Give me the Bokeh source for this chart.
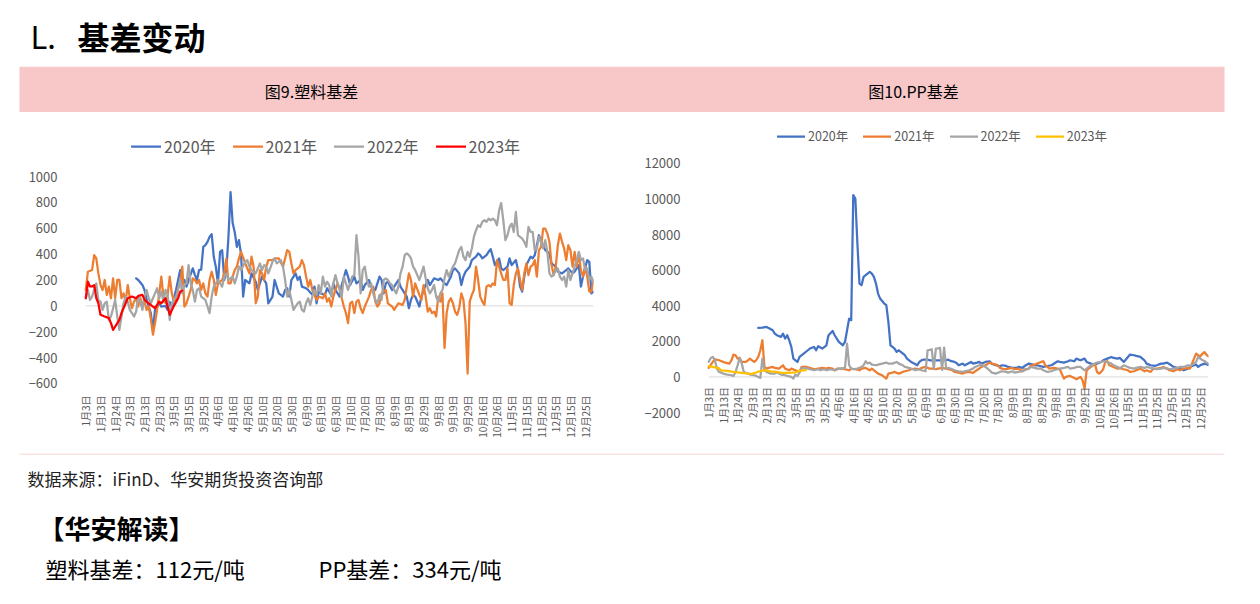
from math import pi
from bokeh.plotting import figure
from bokeh.models import Range1d, FixedTicker
from bokeh.layouts import column, row
from bokeh.embed import file_html
from bokeh.resources import INLINE
from bokeh.core.properties import value

FONT = "Noto Sans CJK SC"
GRAY_TXT = "#595959"

# ---------------- data ----------------
N_CAT = 243  # trading-day categories on the x axis
LABELS = ["1月3日", "1月13日", "1月24日", "2月3日", "2月13日", "2月23日", "3月5日",
          "3月15日", "3月25日", "4月6日", "4月16日", "4月26日", "5月10日", "5月20日",
          "5月30日", "6月9日", "6月19日", "6月30日", "7月10日", "7月20日", "7月30日",
          "8月9日", "8月19日", "8月29日", "9月8日", "9月19日", "9月29日", "10月16日",
          "10月26日", "11月5日", "11月15日", "11月25日", "12月5日", "12月15日", "12月25日"]
LABEL_STEP = 7
LABEL_POS = [i * LABEL_STEP for i in range(len(LABELS))]

SERIES = ["2020年", "2021年", "2022年", "2023年"]
PE_COLORS = ["#4472C4", "#ED7D31", "#A5A5A5", "#FF0000"]
PP_COLORS = ["#4472C4", "#ED7D31", "#A5A5A5", "#FFC000"]

PE_TICKS = [-600, -400, -200, 0, 200, 400, 600, 800, 1000]
PP_TICKS = [-2000, 0, 2000, 4000, 6000, 8000, 10000, 12000]

# (category index, basis) pairs
PE_2020 = [(24,213),(25,200),(27,161),(28,123),(29,46),(30,-5),(31,-56),(32,-190),(33,-31),(35,20),(36,-5),(38,0),(39,-31),(40,30),(41,-5),(43,123),(44,200),(45,277),(46,180),(47,200),(48,149),(49,200),(51,290),(52,240),(53,200),(54,277),(55,280),(56,456),(57,469),(58,495),(59,533),(60,555),(61,379),(62,300),(63,174),(64,418),(65,431),(66,200),(67,280),(68,533),(69,879),(70,640),(71,570),(72,456),(73,508),(74,400),(75,72),(76,200),(78,174),(79,251),(81,187),(82,123),(84,226),(86,174),(87,20),(89,72),(90,200),(92,97),(94,72),(95,123),(96,136),(97,72),(98,200),(100,251),(101,200),(102,226),(103,149),(105,136),(106,123),(108,85),(109,149),(110,20),(111,110),(112,97),(114,85),(115,136),(117,85),(118,174),(119,123),(121,72),(122,161),(124,277),(125,226),(126,161),(128,226),(129,174),(131,200),(132,123),(133,161),(135,200),(136,149),(138,123),(140,226),(141,200),(142,97),(143,174),(144,187),(146,123),(148,174),(149,200),(150,149),(152,97),(153,72),(154,-18),(155,46),(156,85),(157,72),(159,-5),(160,72),(161,123),(163,200),(164,161),(166,213),(168,200),(169,213),(171,174),(172,161),(174,226),(175,277),(176,290),(178,251),(179,161),(180,226),(181,264),(183,303),(184,354),(186,380),(187,405),(188,392),(189,367),(191,392),(192,418),(193,438),(194,380),(195,315),(197,367),(198,290),(199,277),(201,303),(202,367),(203,315),(205,354),(206,277),(207,149),(208,110),(209,226),(210,315),(212,380),(213,367),(214,392),(216,546),(217,495),(218,469),(219,431),(221,405),(222,328),(224,303),(225,264),(227,251),(229,277),(230,290),(232,251),(233,264),(235,315),(236,149),(237,226),(239,354),(240,341),(241,97),(242,110)]

PE_2021 = [(0,123),(1,264),(3,277),(4,392),(5,367),(6,251),(7,162),(8,123),(9,200),(10,85),(11,149),(12,59),(13,213),(14,59),(15,200),(16,200),(17,59),(18,97),(19,33),(20,161),(21,60),(22,-18),(23,33),(24,59),(25,-5),(26,59),(27,8),(28,33),(29,-31),(30,-5),(31,-100),(32,-223),(33,-133),(34,-31),(35,97),(36,226),(37,72),(38,20),(39,85),(40,226),(41,97),(42,33),(43,46),(44,136),(45,174),(46,303),(47,-5),(48,20),(49,72),(50,123),(51,213),(52,200),(53,174),(54,200),(55,123),(56,174),(57,97),(58,72),(59,200),(60,264),(61,200),(62,85),(63,174),(64,187),(65,200),(66,251),(67,367),(68,174),(69,174),(70,226),(71,277),(72,303),(73,367),(74,418),(76,328),(78,251),(79,380),(80,303),(81,20),(82,72),(83,277),(84,251),(85,200),(86,303),(87,354),(89,354),(90,367),(92,367),(94,303),(96,431),(97,418),(98,328),(99,251),(100,277),(102,303),(103,354),(104,315),(105,226),(106,149),(107,200),(108,123),(110,46),(111,72),(113,59),(114,97),(115,33),(116,59),(117,-5),(118,72),(119,123),(120,174),(121,136),(122,59),(123,-5),(124,-56),(125,-133),(126,20),(127,33),(128,-56),(129,33),(130,46),(131,-18),(132,-56),(133,-5),(134,33),(135,72),(136,123),(137,149),(138,33),(139,-5),(140,20),(141,97),(143,123),(144,20),(146,-5),(147,-31),(148,-5),(149,20),(151,8),(152,46),(154,251),(155,200),(156,72),(157,174),(159,85),(160,46),(161,161),(162,72),(163,-44),(164,-18),(165,-56),(166,-44),(167,-82),(168,72),(169,33),(170,97),(171,-326),(172,-56),(173,33),(174,59),(175,20),(176,-44),(177,-69),(178,-18),(179,97),(180,46),(181,-133),(182,-523),(183,33),(184,85),(185,123),(186,303),(187,200),(188,72),(189,33),(190,8),(191,149),(192,161),(193,149),(194,174),(195,161),(196,354),(197,303),(198,251),(199,200),(200,200),(201,290),(202,20),(203,8),(204,161),(205,251),(206,290),(207,200),(208,123),(209,251),(210,328),(211,238),(212,303),(213,315),(214,354),(215,226),(216,431),(217,456),(218,597),(219,597),(220,559),(221,495),(222,315),(223,238),(224,303),(225,469),(226,559),(227,495),(228,444),(229,354),(230,469),(231,431),(232,303),(233,418),(234,303),(235,405),(236,277),(237,226),(238,303),(239,226),(240,110),(241,110),(242,200)]

PE_2022 = [(0,59),(1,123),(2,46),(3,72),(4,123),(5,174),(6,40),(7,33),(8,-31),(9,20),(10,33),(11,-108),(12,-82),(13,-20),(14,46),(15,-82),(16,-185),(17,-82),(18,20),(19,72),(20,33),(21,-31),(22,-56),(23,-82),(24,-44),(25,72),(26,33),(27,-31),(28,72),(29,123),(30,59),(31,20),(32,59),(33,97),(34,136),(35,59),(36,110),(37,33),(38,123),(39,85),(40,-108),(41,20),(42,46),(43,72),(44,123),(45,200),(46,97),(47,161),(48,174),(49,315),(50,174),(51,123),(52,33),(53,123),(54,136),(55,72),(57,46),(58,-5),(59,-56),(60,72),(61,149),(62,174),(63,200),(65,149),(66,226),(67,251),(68,200),(70,226),(71,174),(72,226),(73,303),(74,277),(76,341),(77,354),(78,303),(79,277),(81,251),(82,290),(83,328),(84,277),(85,315),(86,303),(87,251),(89,341),(90,367),(91,328),(92,341),(93,354),(94,303),(95,200),(96,72),(97,123),(98,46),(99,-31),(100,-5),(101,20),(102,33),(103,-31),(104,-44),(105,20),(106,59),(107,8),(108,72),(109,123),(110,85),(111,161),(112,97),(113,226),(114,149),(115,187),(116,161),(117,72),(118,174),(119,238),(120,174),(121,123),(122,72),(123,226),(124,174),(125,123),(126,174),(127,226),(128,238),(129,546),(130,380),(131,97),(132,277),(133,303),(134,200),(135,149),(136,174),(137,97),(138,46),(139,20),(140,85),(141,46),(142,200),(143,213),(144,200),(145,174),(146,161),(147,123),(148,97),(149,149),(150,251),(151,303),(152,392),(153,405),(154,392),(155,367),(156,303),(157,277),(158,238),(159,200),(160,251),(161,303),(162,213),(163,136),(164,97),(165,123),(166,161),(167,72),(168,33),(169,97),(170,123),(171,213),(172,277),(173,226),(174,264),(175,303),(176,328),(177,380),(178,431),(179,456),(180,380),(181,354),(182,418),(183,380),(184,444),(185,533),(186,585),(187,623),(188,610),(189,649),(190,662),(191,649),(192,674),(193,662),(194,674),(195,662),(196,623),(197,738),(198,795),(199,662),(200,508),(201,546),(202,610),(203,636),(204,572),(205,726),(206,546),(207,533),(208,520),(209,495),(210,456),(211,610),(212,572),(213,572),(214,431),(215,444),(216,533),(217,495),(218,444),(219,508),(220,418),(221,251),(222,226),(223,238),(224,277),(225,290),(226,226),(227,200),(228,226),(229,149),(230,277),(231,200),(232,251),(233,303),(234,354),(235,418),(236,354),(237,367),(238,277),(239,290),(240,200),(241,226),(242,174)]

PE_2023 = [(0,59),(1,187),(2,150),(3,150),(4,160),(5,60),(6,20),(7,-69),(9,-82),(11,-95),(12,-133),(13,-185),(14,-160),(16,-108),(17,-56),(19,20),(20,59),(22,72),(24,59),(25,77),(27,85),(28,46),(30,20),(32,-5),(33,-18),(35,33),(36,20),(38,59),(40,-69),(42,0),(44,59),(45,110),(46,118)]

PP_2020 = [(24,2756),(26,2775),(28,2812),(29,2756),(31,2625),(32,2437),(33,2344),(35,2250),(36,2437),(37,2156),(38,2344),(39,2062),(40,1687),(41,1031),(42,937),(43,843),(44,1125),(46,1312),(48,1500),(49,1594),(51,1687),(52,1500),(53,1725),(55,1594),(57,1781),(58,2344),(60,2587),(61,2344),(63,1968),(65,1781),(66,1968),(67,2625),(68,3281),(69,3187),(70,10219),(71,10031),(72,7500),(73,5250),(74,5156),(75,5625),(76,5719),(78,5906),(79,5812),(80,5625),(81,5250),(82,4687),(83,4406),(85,4125),(86,4031),(87,3094),(88,1781),(89,1687),(90,1594),(91,1406),(92,1500),(93,1406),(95,1219),(96,1031),(98,844),(99,787),(101,656),(102,844),(103,937),(104,975),(106,975),(107,937),(109,937),(111,937),(112,937),(114,937),(116,975),(117,900),(119,844),(120,787),(121,656),(123,750),(124,656),(127,844),(128,750),(130,806),(131,844),(132,750),(134,844),(136,881),(137,750),(139,656),(141,600),(142,656),(144,619),(145,562),(147,506),(149,506),(150,562),(152,506),(153,619),(155,750),(157,694),(158,656),(159,656),(162,562),(166,656),(169,881),(170,844),(172,806),(174,881),(175,937),(177,881),(178,1031),(180,937),(182,1031),(183,844),(185,750),(187,694),(188,750),(190,844),(191,937),(193,1031),(195,1125),(196,1069),(198,1031),(199,1069),(201,844),(203,1125),(204,1256),(206,1219),(207,1181),(209,1125),(211,937),(212,750),(214,656),(216,619),(217,656),(219,750),(220,750),(222,806),(224,656),(225,562),(227,506),(228,469),(230,375),(232,469),(233,562),(235,656),(236,694),(237,562),(238,656),(240,750),(242,680)]

PP_2021 = [(0,506),(2,844),(3,994),(5,937),(7,844),(8,806),(10,750),(11,937),(12,1256),(13,1219),(14,1031),(15,1069),(16,844),(18,844),(19,937),(20,1031),(21,937),(22,844),(23,937),(24,1125),(25,1500),(26,2062),(27,562),(28,469),(29,506),(31,562),(32,506),(34,469),(36,656),(37,469),(39,375),(40,469),(42,375),(44,281),(45,562),(47,562),(49,506),(50,469),(52,431),(53,469),(55,506),(57,469),(58,506),(60,469),(61,375),(63,469),(65,469),(66,431),(68,375),(69,469),(71,431),(73,375),(74,469),(76,506),(78,375),(79,469),(81,281),(82,187),(84,94),(86,-94),(87,187),(89,244),(90,281),(92,187),(94,281),(95,319),(97,375),(98,431),(100,469),(102,431),(103,506),(105,562),(107,469),(108,469),(110,431),(111,469),(113,506),(115,469),(116,431),(118,375),(119,281),(121,244),(123,187),(124,244),(126,281),(128,225),(129,319),(131,469),(132,562),(134,656),(136,806),(137,750),(139,694),(140,656),(141,506),(142,469),(144,431),(145,469),(147,506),(148,431),(150,469),(152,319),(153,431),(155,469),(156,656),(157,656),(159,750),(161,844),(162,881),(163,656),(164,562),(165,469),(167,506),(169,469),(170,431),(172,-94),(173,0),(175,56),(177,-56),(178,-131),(180,0),(181,-187),(182,-656),(183,375),(184,469),(186,656),(187,750),(188,281),(189,187),(190,281),(191,431),(192,844),(193,881),(194,656),(196,562),(198,469),(199,506),(201,431),(203,375),(204,281),(206,319),(207,375),(209,469),(211,319),(212,375),(214,281),(215,431),(217,469),(219,506),(220,562),(222,469),(223,375),(225,319),(227,431),(228,375),(230,469),(232,506),(233,469),(235,1031),(236,1312),(237,1219),(238,1150),(239,1300),(240,1400),(241,1250),(242,1150)]

PP_2022 = [(0,850),(1,1069),(2,1125),(3,937),(4,469),(5,281),(6,244),(7,187),(9,131),(11,94),(12,56),(13,281),(14,656),(15,1069),(16,750),(17,281),(19,187),(20,131),(22,94),(23,56),(24,0),(25,-56),(26,1031),(27,375),(28,281),(30,187),(32,187),(33,244),(35,131),(37,94),(38,56),(40,0),(41,-94),(42,131),(43,56),(44,244),(45,469),(46,506),(48,469),(49,431),(51,375),(53,431),(54,375),(56,431),(57,375),(59,431),(61,375),(62,469),(64,469),(66,506),(67,1875),(68,656),(69,469),(70,431),(72,469),(74,562),(75,656),(76,881),(77,750),(78,806),(79,694),(81,656),(82,694),(84,750),(86,806),(87,750),(89,750),(91,844),(92,750),(94,656),(95,562),(97,506),(99,431),(100,375),(102,431),(103,375),(105,319),(106,1500),(107,1520),(108,1556),(109,450),(110,1594),(111,1610),(112,1631),(113,400),(114,1650),(115,469),(116,506),(118,431),(119,375),(121,319),(123,281),(124,319),(126,375),(128,469),(129,562),(131,656),(132,694),(134,562),(136,375),(137,244),(139,187),(141,281),(142,319),(144,281),(145,244),(147,319),(148,244),(150,281),(152,319),(153,375),(155,469),(156,562),(158,506),(159,469),(161,469),(162,375),(164,281),(166,319),(167,375),(169,431),(170,469),(172,506),(174,562),(175,469),(177,506),(178,562),(180,562),(182,375),(183,469),(185,656),(187,750),(188,806),(190,844),(191,881),(193,844),(195,750),(196,656),(198,562),(199,469),(201,656),(203,562),(204,506),(206,469),(207,506),(209,562),(211,506),(212,562),(214,506),(216,469),(217,431),(219,469),(220,506),(222,469),(224,431),(225,469),(227,506),(228,562),(230,562),(232,656),(233,619),(235,750),(236,844),(237,1125),(238,1031),(239,950),(240,900),(241,800),(242,750)]

PP_2023 = [(0,600),(1,580),(2,560),(3,540),(5,480),(6,375),(9,340),(12,281),(15,240),(19,187),(21,170),(23,250),(25,337),(28,375),(30,300),(32,300),(34,260),(36,225),(39,225),(42,260),(44,337),(46,375),(47,380)]

TITLE_NUM = "L."
TITLE_TXT = "基差变动"
PANEL_TITLES = ["图9.塑料基差", "图10.PP基差"]
SOURCE_TXT = "数据来源：iFinD、华安期货投资咨询部"
READ_HEAD = "【华安解读】"
READ_PE = "塑料基差：112元/吨"
READ_PP = "PP基差：334元/吨"

PINK = "#F8C8C8"
PINK_LINE = "#F6C6C6"
W = 1250
PAD_CAT = 3.0  # small category pad left of the first day so its label is not clipped


def deco_fig(w, h):
    p = figure(width=w, height=h, x_range=Range1d(0, w), y_range=Range1d(0, h),
               output_backend="svg", toolbar_location=None, min_border=0,
               x_axis_location=None, y_axis_location=None)
    p.grid.visible = False
    p.outline_line_color = None
    p.background_fill_color = "white"
    p.border_fill_color = "white"
    return p


def chart_fig(w, bl, br, y0, y1):
    p = figure(width=w, height=341, x_range=Range1d(-PAD_CAT, N_CAT - 1),
               y_range=Range1d(y0, y1), output_backend="svg", toolbar_location=None,
               x_axis_location=None, min_border_left=bl, min_border_right=br,
               min_border_top=0, min_border_bottom=0)
    p.outline_line_color = None
    p.grid.visible = False
    # horizontal zero axis line spanning the category extent
    p.line(x=[0, N_CAT - 1], y=[0, 0], line_color="#D9D9D9", line_width=1)
    return p


def style_y(p, ticks, standoff):
    ax = p.yaxis[0]
    ax.ticker = FixedTicker(ticks=ticks)
    ax.axis_line_color = None
    ax.major_tick_line_color = None
    ax.minor_tick_line_color = None
    ax.major_label_text_font = FONT
    ax.major_label_text_font_size = "13px"
    ax.major_label_text_color = GRAY_TXT
    ax.major_label_standoff = standoff


def add_lines(p, datasets, colors):
    for name, col, data in zip(SERIES, colors, datasets):
        xs = [a for a, b in data]
        ys = [b for a, b in data]
        p.line(xs, ys, line_color=col, line_width=2.25, line_join="round",
               line_cap="round", legend_label=name)


def add_xlabels(p, base, offset):
    p.text(x=LABEL_POS, y=[base] * len(LABEL_POS), text=LABELS, angle=pi / 2, y_offset=offset,
           text_align="right", text_baseline="middle", text_font=value(FONT),
           text_font_size="10px", text_color=GRAY_TXT)


def style_legend(p, loc, font_size, h, spacing, glyph_w):
    lg = p.legend[0]
    lg.orientation = "horizontal"
    lg.location = loc
    lg.glyph_width = glyph_w
    lg.glyph_height = h
    lg.label_height = h
    lg.label_standoff = 3
    lg.spacing = spacing
    lg.padding = 0
    lg.margin = 0
    lg.label_text_font = FONT
    lg.label_text_font_size = font_size
    lg.label_text_color = GRAY_TXT
    lg.background_fill_alpha = 0
    lg.border_line_color = None


# ---------------- header ----------------
hdr = deco_fig(W, 66)
hdr.text(x=[30], y=[31], text=[TITLE_NUM], text_font=value(FONT), text_font_size="31px",
         text_baseline="middle", text_color="#000000")
hdr.text(x=[77], y=[31], text=[TITLE_TXT], text_font=value(FONT), text_font_size="32px",
         text_font_style="bold", text_baseline="middle", text_color="#000000")

ban = deco_fig(W, 46)
ban.quad(left=[19], right=[1224], bottom=[0], top=[46], fill_color=PINK, line_color=None)
ban.text(x=[311, 913], y=[22, 22], text=PANEL_TITLES, text_font=value(FONT),
         text_font_size="16px", text_align="center", text_baseline="middle", text_color="#000000")

# ---------------- left chart (PE) ----------------
# frame spans the whole figure height; 1000 sits 64px below its top, -600 70px above its bottom
left = chart_fig(640, 79, 47, -1141.1, 1494.7)
add_lines(left, [PE_2020, PE_2021, PE_2022, PE_2023], PE_COLORS)
style_y(left, PE_TICKS, 16)
add_xlabels(left, PE_TICKS[0], 12)
style_legend(left, (52, 295), "16px", 20, 17, 30)

# ---------------- right chart (PP) ----------------
right = chart_fig(610, 62, 42, -4305, 14867)
add_lines(right, [PP_2020, PP_2021, PP_2022, PP_2023], PP_COLORS)
style_y(right, PP_TICKS, 16)
add_xlabels(right, 0, 10)
style_legend(right, (75, 308), "12.5px", 16, 15, 28)

# ---------------- bottom text ----------------
bot = deco_fig(W, 147)
bot.segment(x0=[19], y0=[146.5], x1=[1224], y1=[146.5], line_color=PINK_LINE, line_width=1)
bot.text(x=[27], y=[122], text=[SOURCE_TXT], text_font=value(FONT), text_font_size="17px",
         text_baseline="middle", text_color="#222222")
bot.text(x=[38], y=[73], text=[READ_HEAD], text_font=value(FONT), text_font_size="26px",
         text_font_style="bold", text_baseline="middle", text_color="#000000")
bot.text(x=[45, 318], y=[33, 33], text=[READ_PE, READ_PP], text_font=value(FONT),
         text_font_size="22px", text_baseline="middle", text_color="#000000")

layout = column(hdr, ban, row(left, right), bot)
open("out.html", "w").write(file_html(layout, INLINE))
